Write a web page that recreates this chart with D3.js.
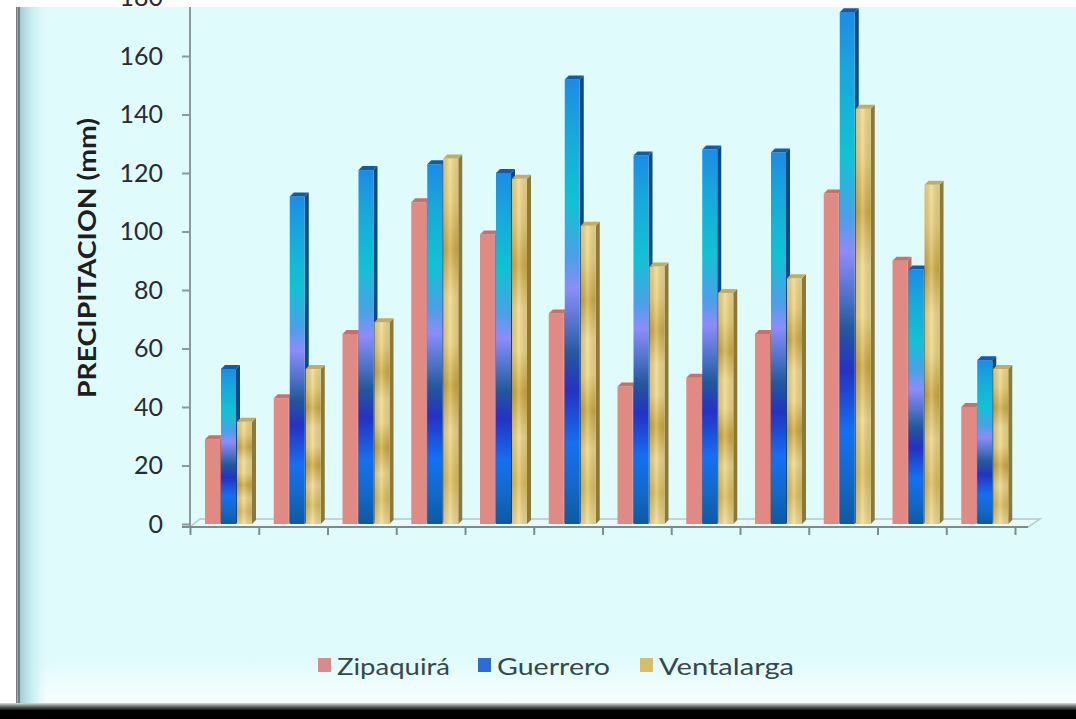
<!DOCTYPE html>
<html>
<head>
<meta charset="utf-8">
<script src="https://cdn.jsdelivr.net/npm/d3@7"></script>
<style>
  html, body { margin: 0; padding: 0; background: #fff; }
  svg { display: block; }
</style>
</head>
<body>
<svg width="1076" height="719"></svg>
<script>
(function(d3) {
    'use strict';

    // months (no labels shown on the original axis)
    const months = ['ENE', 'FEB', 'MAR', 'ABR', 'MAY', 'JUN', 'JUL', 'AGO', 'SEP', 'OCT', 'NOV', 'DIC'];
    const seriesNames = ['Zipaquirá', 'Guerrero', 'Ventalarga'];
    const zipaquira = [29, 43, 65, 110, 99, 72, 47, 50, 65, 113, 90, 40];
    const guerrero = [53, 112, 121, 123, 120, 152, 126, 128, 127, 175, 87, 56];
    const ventalarga = [35, 53, 69, 125, 118, 102, 88, 79, 84, 142, 116, 53];
    const yTicks = [0, 20, 40, 60, 80, 100, 120, 140, 160, 180];

    const series = [zipaquira, guerrero, ventalarga];

    const width = 1076, height = 719;
    const svg = d3.select('svg');
    const defs = svg.append('defs');

    const addGrad = (id, stops, horiz) => {
        const g = defs.append('linearGradient').attr('id', id)
            .attr('x1', 0).attr('y1', 0)
            .attr('x2', horiz ? 1 : 0).attr('y2', horiz ? 0 : 1);
        stops.forEach(s => g.append('stop').attr('offset', s[0]).attr('stop-color', s[1])
            .attr('stop-opacity', s[2] == null ? 1 : s[2]));
    };

    addGrad('bgFade', [[0, '#dffbfc'], [1, '#fbffff']]);
    addGrad('leftShade', [[0, '#a6cdd4'], [0.4, '#c8eef2'], [1, '#dffbfc', 0]], true);
    addGrad('bottomBar', [[0, '#d8dcdc'], [0.5, '#5a5e5e'], [1, '#000']]);
    addGrad('blueFront', [
        [0, '#1c8ce6'], [0.12, '#18a8dc'], [0.28, '#10c2d4'], [0.4, '#4aa0e8'],
        [0.47, '#8c8cfa'], [0.56, '#4a70c8'], [0.62, '#23589c'], [0.7, '#2432c4'],
        [0.82, '#1470f2'], [0.92, '#1268c8'], [1, '#0c5aa4']]);
    addGrad('goldFront', [
        [0, '#f0da8c'], [0.12, '#ead07a'], [0.25, '#cfac44'], [0.38, '#f0d88a'],
        [0.5, '#eed682'], [0.62, '#cca83c'], [0.75, '#eed688'], [0.88, '#dcbe5a'], [1, '#f2dc96']]);
    addGrad('cyl', [[0, '#000', 0.1], [0.45, '#fff', 0.2], [1, '#000', 0.08]], true);

    // background and frame
    svg.append('rect').attr('width', width).attr('height', height).attr('fill', '#dffbfc');
    svg.append('rect').attr('x', 0).attr('y', 660).attr('width', width).attr('height', 44)
        .attr('fill', 'url(#bgFade)');
    svg.append('rect').attr('x', 20).attr('y', 0).attr('width', 30).attr('height', 706)
        .attr('fill', 'url(#leftShade)');
    svg.append('rect').attr('x', 0).attr('y', 0).attr('width', 16).attr('height', height).attr('fill', '#fff');
    svg.append('rect').attr('x', 16).attr('y', 0).attr('width', 4).attr('height', 708).attr('fill', '#6f7f80');
    svg.append('rect').attr('x', 17).attr('y', 0).attr('width', 1).attr('height', 708).attr('fill', '#a0b0b0');
    // top white strip
    svg.append('rect').attr('x', 0).attr('y', 0).attr('width', width).attr('height', 7).attr('fill', '#fff');

    // scales
    const y = d3.scaleLinear().domain([0, 180]).range([524, -2.5]);
    const x = d3.scaleBand().domain(months).range([190, 1015]).paddingInner(0).paddingOuter(0);
    const xEdge = d3.scaleLinear().domain([0, months.length]).range([190, 1015]);
    const xInner = d3.scaleBand().domain(seriesNames).range([15, 63]).padding(0);
    const depth = 4;
    const barW = 15;

    // 3D floor
    const floor = svg.append('g');
    floor.append('path')
        .attr('d', `M190,527 L200,519 L1040,519 L1028,527 Z`)
        .attr('fill', '#e8fafa').attr('stroke', '#b8c8c8').attr('stroke-width', 1.5);

    // y axis
    const yAxisG = svg.append('g').attr('transform', 'translate(190,0)')
        .call(d3.axisLeft(y).tickValues(yTicks).tickSize(8).tickPadding(19));
    yAxisG.select('.domain').attr('stroke', '#8a9a9a').attr('stroke-width', 2)
        .attr('d', 'M0,7V528');
    yAxisG.selectAll('.tick line').attr('stroke', '#8a9a9a').attr('stroke-width', 2);
    yAxisG.selectAll('.tick text')
        .attr('fill', '#2b2b2b')
        .style('font-family', 'Lato, "Open Sans", sans-serif')
        .style('font-size', '25px');

    // x axis (ticks at category edges, no labels)
    const xAxisG = svg.append('g').attr('transform', 'translate(0,527)')
        .call(d3.axisBottom(xEdge).ticks(months.length).tickSize(8).tickFormat(''));
    xAxisG.select('.domain').attr('stroke', '#7d8b8b').attr('stroke-width', 2)
        .attr('d', 'M182,0H1028');
    xAxisG.selectAll('.tick line').attr('stroke', '#7d8b8b').attr('stroke-width', 2);

    // bars
    const styles = [
        { front: '#e18a84', top: '#c9706c', side: '#b86a66' },
        { front: 'url(#blueFront)', top: '#0f5ca8', side: '#0b4a86' },
        { front: 'url(#goldFront)', top: '#c4ac62', side: '#8c7838' }
    ];

    const groups = svg.selectAll('.grp').data(months)
        .enter().append('g')
        .attr('class', 'grp')
        .attr('transform', d => `translate(${x(d)},0)`);

    seriesNames.forEach((name, si) => {
        const st = styles[si];
        const bar = groups.append('g').attr('class', 'bar');
        const bx = xInner(name);
        bar.append('path')
            .attr('fill', st.side)
            .attr('d', (d, i) => {
                const yt = y(series[si][i]), y0 = y(0);
                return `M${bx + barW},${y0} L${bx + barW},${yt} L${bx + barW + depth},${yt - depth} L${bx + barW + depth},${y0 - depth} Z`;
            });
        bar.append('rect')
            .attr('x', bx)
            .attr('y', (d, i) => y(series[si][i]))
            .attr('width', barW)
            .attr('height', (d, i) => y(0) - y(series[si][i]))
            .attr('fill', st.front);
        if (si === 2) {
            bar.append('rect')
                .attr('x', bx)
                .attr('y', (d, i) => y(series[si][i]))
                .attr('width', barW)
                .attr('height', (d, i) => y(0) - y(series[si][i]))
                .attr('fill', 'url(#cyl)');
        }
        bar.append('path')
            .attr('fill', st.top)
            .attr('d', (d, i) => {
                const yt = y(series[si][i]);
                return `M${bx},${yt} L${bx + barW},${yt} L${bx + barW + depth},${yt - depth} L${bx + depth},${yt - depth} Z`;
            });
    });

    // y axis title
    svg.append('text')
        .attr('transform', 'translate(96,258) rotate(-90)')
        .attr('text-anchor', 'middle')
        .attr('textLength', 280)
        .attr('lengthAdjust', 'spacingAndGlyphs')
        .attr('fill', '#1e1e1e')
        .style('font-family', 'Lato, "Open Sans", sans-serif')
        .style('font-weight', 'bold')
        .style('font-size', '24px')
        .text('PRECIPITACION (mm)');

    // legend
    const legendX = [318, 478, 640];
    const legendW = [113, 113, 135];
    const legendSw = ['#d98a8a', '#2a6ed2', '#d6bf6a'];
    const legend = svg.selectAll('.leg').data(seriesNames)
        .enter().append('g')
        .attr('class', 'leg')
        .attr('transform', (d, i) => `translate(${legendX[i]},658)`);
    legend.append('rect')
        .attr('width', 13).attr('height', 14)
        .attr('fill', (d, i) => legendSw[i]);
    legend.append('text')
        .attr('x', 19).attr('y', 17)
        .attr('textLength', (d, i) => legendW[i])
        .attr('lengthAdjust', 'spacingAndGlyphs')
        .attr('fill', '#36474a')
        .style('font-family', 'Lato, "Open Sans", sans-serif')
        .style('font-size', '24px')
        .text(d => d);

    // bottom dark bar
    svg.append('rect').attr('x', 0).attr('y', 703).attr('width', width).attr('height', 8).attr('fill', 'url(#bottomBar)');
    svg.append('rect').attr('x', 0).attr('y', 710).attr('width', width).attr('height', 9).attr('fill', '#000');

}(d3));
</script>
</body>
</html>
